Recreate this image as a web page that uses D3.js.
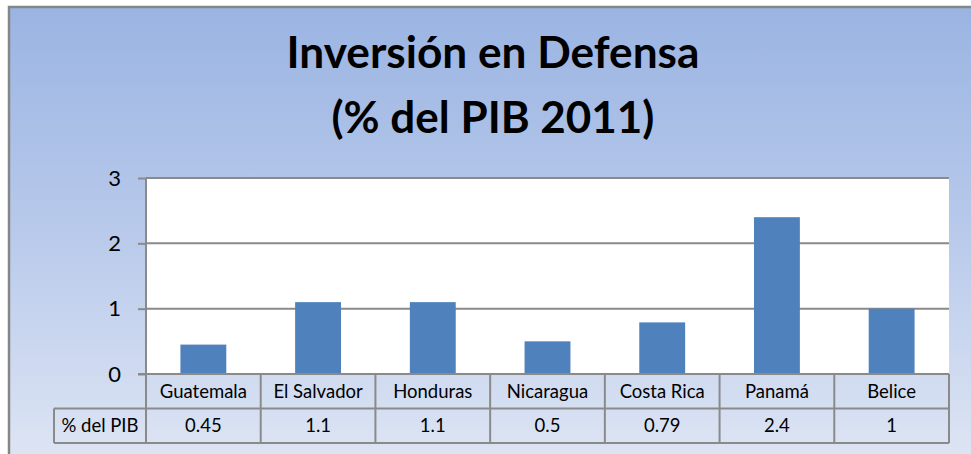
<!DOCTYPE html>
<html><head><meta charset="utf-8">
<script src="https://cdn.jsdelivr.net/npm/d3@7"></script>
<style>html,body{margin:0;padding:0;background:#fff;}svg{display:block;}</style>
</head><body>
<svg id="c" width="971" height="454"></svg>
<script>
const categories = ["Guatemala","El Salvador","Honduras","Nicaragua","Costa Rica","Panamá","Belice"];
const values = [0.45, 1.1, 1.1, 0.5, 0.79, 2.4, 1];
const valueLabels = ["0.45","1.1","1.1","0.5","0.79","2.4","1"];
const yTicks = [0,1,2,3];
const seriesName = "% del PIB";
const titleLines = ["Inversión en Defensa","(% del PIB 2011)"];

const svg = d3.select("#c");
const FONT = "Lato, 'Open Sans', sans-serif";
const defs = svg.append("defs");
const grad = defs.append("linearGradient").attr("id","bg").attr("x1",0).attr("y1",0).attr("x2",0).attr("y2",1);
grad.append("stop").attr("offset","0%").attr("stop-color","#9ab4e2");
grad.append("stop").attr("offset","50%").attr("stop-color","#b9caeb");
grad.append("stop").attr("offset","100%").attr("stop-color","#dfe6f4");

svg.append("rect").attr("x",9).attr("y",7).attr("width",975).attr("height",460)
  .attr("fill","url(#bg)").attr("stroke","#868686").attr("stroke-width",2.5);

const L = 146, R = 949, T = 178, B = 374;
const x = d3.scaleBand().domain(categories).range([L,R]).paddingInner(0.6).paddingOuter(0.3);
const xc = d3.scaleBand().domain(categories).range([L,R]);
const y = d3.scaleLinear().domain([0,3]).range([B,T]);

svg.append("rect").attr("x",L).attr("y",T).attr("width",R-L).attr("height",B-T).attr("fill","#fff");

svg.append("g").selectAll("line").data(yTicks.filter(d=>d>0)).join("line")
  .attr("x1",L).attr("x2",R).attr("y1",d=>y(d)).attr("y2",d=>y(d))
  .attr("stroke","#8a8a8a").attr("stroke-width",2);

svg.append("g").selectAll("rect").data(values).join("rect")
  .attr("x",(d,i)=>x(categories[i])).attr("width",x.bandwidth())
  .attr("y",d=>y(d)).attr("height",d=>B-y(d))
  .attr("fill","#4f81bd");

const yAxis = d3.axisLeft(y).tickValues(yTicks).tickFormat(d3.format("d")).tickSize(8).tickPadding(17);
const ya = svg.append("g").attr("transform",`translate(${L},0)`).call(yAxis);
ya.select(".domain").remove();
ya.selectAll(".tick line").attr("stroke","#8a8a8a").attr("stroke-width",2);
ya.selectAll(".tick text").attr("font-family",FONT).attr("font-size",22).attr("fill","#000");

const rowH = 34.5;
const g = svg.append("g").attr("stroke","#8a8a8a").attr("stroke-width",2).attr("fill","none");
g.append("line").attr("x1",138).attr("x2",R).attr("y1",B).attr("y2",B);
g.append("line").attr("x1",54).attr("x2",R).attr("y1",B+rowH).attr("y2",B+rowH);
g.append("line").attr("x1",54).attr("x2",R).attr("y1",B+2*rowH).attr("y2",B+2*rowH);
g.append("line").attr("x1",L).attr("x2",L).attr("y1",T).attr("y2",B+2*rowH);
g.append("line").attr("x1",54).attr("x2",54).attr("y1",B+rowH).attr("y2",B+2*rowH);
g.selectAll("line.col").data(categories).join("line").attr("class","col")
  .attr("x1",d=>xc(d)+xc.bandwidth()).attr("x2",d=>xc(d)+xc.bandwidth())
  .attr("y1",B).attr("y2",B+2*rowH);
g.append("line").attr("x1",L).attr("x2",R).attr("y1",T).attr("y2",T);

const tx = svg.append("g").attr("font-family",FONT).attr("font-size",18.5).attr("fill","#000").attr("text-anchor","middle");
tx.selectAll("text.cat").data(categories).join("text").attr("class","cat")
  .attr("x",d=>xc(d)+xc.bandwidth()/2).attr("y",B+rowH/2+6.5).text(d=>d);
tx.selectAll("text.val").data(valueLabels).join("text").attr("class","val")
  .attr("x",(d,i)=>xc(categories[i])+xc.bandwidth()/2).attr("y",B+rowH*1.5+6.5).text(d=>d);
tx.append("text").attr("x",(54+L)/2).attr("y",B+rowH*1.5+6.5).text(seriesName);

const tt = svg.append("g").attr("font-family",FONT).attr("font-weight","bold").attr("font-size",38).attr("text-anchor","middle").attr("fill","#000");
const targetW = [413, 323];
const baselines = [68, 133];
titleLines.forEach((t,i)=>{
  const el = tt.append("text").attr("x",493).attr("y",baselines[i]).text(t);
  const w = el.node().getComputedTextLength();
  el.attr("font-size", 38*targetW[i]/w);
});
</script>
</body></html>
